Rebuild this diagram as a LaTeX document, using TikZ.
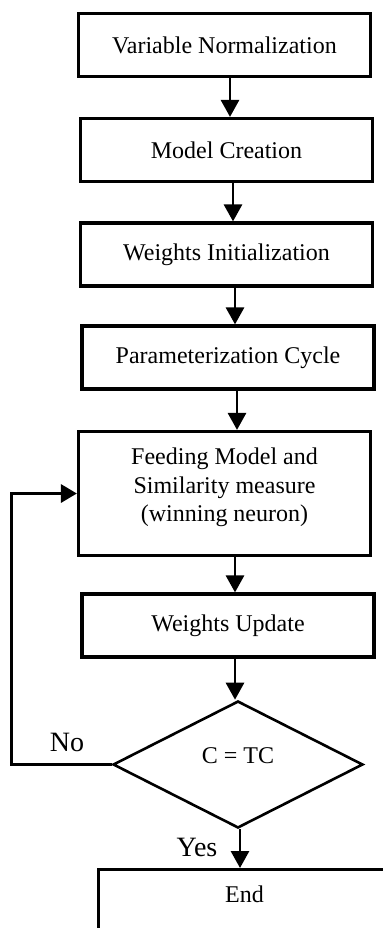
\documentclass[tikz,border=0pt]{standalone}
\usepackage{fontspec}
\setmainfont{Liberation Serif}
\usepackage{tikz}
\usetikzlibrary{shapes.geometric}
\usetikzlibrary{arrows.meta}
\tikzset{
    stepbox/.style = {rectangle, draw=black, line width=1.6pt, align=center, minimum width=146pt, minimum height=31.5pt, inner sep=2pt, font=\fontsize{12}{14.3}\selectfont},
    decbox/.style = {diamond, draw=black, line width=1.3pt, shape aspect=1.97, minimum width=125pt, minimum height=63.5pt, inner sep=0pt, font=\fontsize{12}{14.3}\selectfont},
    lbl/.style = {inner sep=0pt, font=\fontsize{14}{16}\selectfont},
}
\begin{document}
\begin{tikzpicture}[x=0.5pt, y=-0.5pt]
\tikzset{
    arr/.style = {-{Triangle[width=9pt,length=8.5pt]}, line width=1.4pt},
    loop/.style = {-{Triangle[width=9pt,length=8pt]}, line width=1.6pt}
}
\useasboundingbox (0,0) rectangle (383,928);
\clip (0,0) rectangle (383,928);
%
\node[stepbox] at (224.5,45) (norm) {Variable Normalization};
\node[stepbox] at (226.5,150) (model) {Model Creation};
\node[stepbox] at (226.5,254.5) (winit) {Weights Initialization};
\node[stepbox] at (228,357.5) (param) {Parameterization Cycle};
\node[stepbox, minimum height=62pt, text depth=8.6pt] at (224.5,493.5) (feed) {Feeding Model and\\Similarity measure\\(winning neuron)};
\node[stepbox] at (228,625.5) (wupd) {Weights Update};
\node[decbox, text depth=9pt] at (238,764.5) (check) {C = TC};
\node[stepbox, anchor=north, inner ysep=8pt, text depth=60pt] at (244.5,868) (stop) {End};
%
\node[lbl] at (67,742) (nolbl) {No};
\node[lbl] at (197,847) (yeslbl) {Yes};
%
\draw[arr] (norm.south -| 230,0) -- (model.north -| 230,0);
\draw[arr] (model.south -| 233,0) -- (winit.north -| 233,0);
\draw[arr] (winit.south -| 235,0) -- (param.north -| 235,0);
\draw[arr] (param.south -| 237,0) -- (feed.north -| 237,0);
\draw[arr] (feed.south -| 235,0) -- (wupd.north -| 235,0);
\draw[arr] (wupd.south -| 235,0) -- (check.north -| 235,0);
\draw[arr] (check.south -| 240,0) -- (stop.north -| 240,0);
%
\draw[loop] (check.west) -- ++(-100,0) |- (feed.west);
\end{tikzpicture}
\end{document}
